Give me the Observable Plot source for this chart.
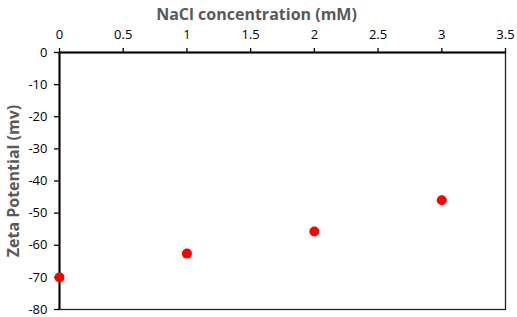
<!DOCTYPE html>
<html>
<head>
<meta charset="utf-8">
<script src="https://cdn.jsdelivr.net/npm/d3@7"></script>
<script src="https://cdn.jsdelivr.net/npm/@observablehq/plot@0.6"></script>
<style>
  html, body { margin: 0; padding: 0; background: #fff; }
  #chart { width: 517px; height: 317px; }
</style>
</head>
<body>
<div id="chart"></div>
<script>
const concentration = [0, 1, 2, 3];
const zeta = [-70, -62.6, -55.7, -46];
const xTicks = [0, 0.5, 1, 1.5, 2, 2.5, 3, 3.5];
const yTicks = [0, -10, -20, -30, -40, -50, -60, -70, -80];
const xTitle = "NaCl concentration (mM)";
const yTitle = "Zeta Potential (mv)";

const data = concentration.map((c, i) => ({c, z: zeta[i]}));

const chart = Plot.plot({
  width: 517,
  height: 317,
  marginLeft: 59,
  marginRight: 12,
  marginTop: 52,
  marginBottom: 8,
  style: {fontFamily: "'Open Sans', sans-serif", fontSize: "13px", color: "#000", background: "#fff"},
  x: {domain: [0, 3.5]},
  y: {domain: [-80, 0]},
  marks: [
    Plot.frame({stroke: "#222", strokeWidth: 1.3}),
    Plot.axisX(xTicks, {anchor: "top", tickSize: 5, tickPadding: 9, label: null, stroke: "#000", strokeWidth: 1.3, fontSize: 13, tickFormat: d => String(d)}),
    Plot.axisY(yTicks, {anchor: "left", tickSize: 5, tickPadding: 7, label: yTitle, labelAnchor: "center", labelArrow: "none", labelOffset: 52, stroke: "#000", strokeWidth: 1.3, fontSize: 13, tickFormat: d => String(d)}),
    Plot.ruleY([0], {stroke: "#000", strokeWidth: 2}),
    Plot.ruleX([0], {stroke: "#000", strokeWidth: 2}),
    Plot.dot(data, {x: "c", y: "z", r: 5, fill: "#ff0000", stroke: "none"}),
    Plot.text([xTitle], {frameAnchor: "top", dx: -26, dy: -33, text: d => d, fontSize: 16, fontWeight: "bold", fill: "#595959", lineAnchor: "bottom"})
  ]
});
// style the y-axis label
chart.querySelectorAll("g[aria-label='y-axis label'] text").forEach(t => {
  t.setAttribute("font-size", "16");
  t.setAttribute("font-weight", "bold");
  t.setAttribute("fill", "#595959");
});
document.getElementById("chart").appendChild(chart);
</script>
</body>
</html>
